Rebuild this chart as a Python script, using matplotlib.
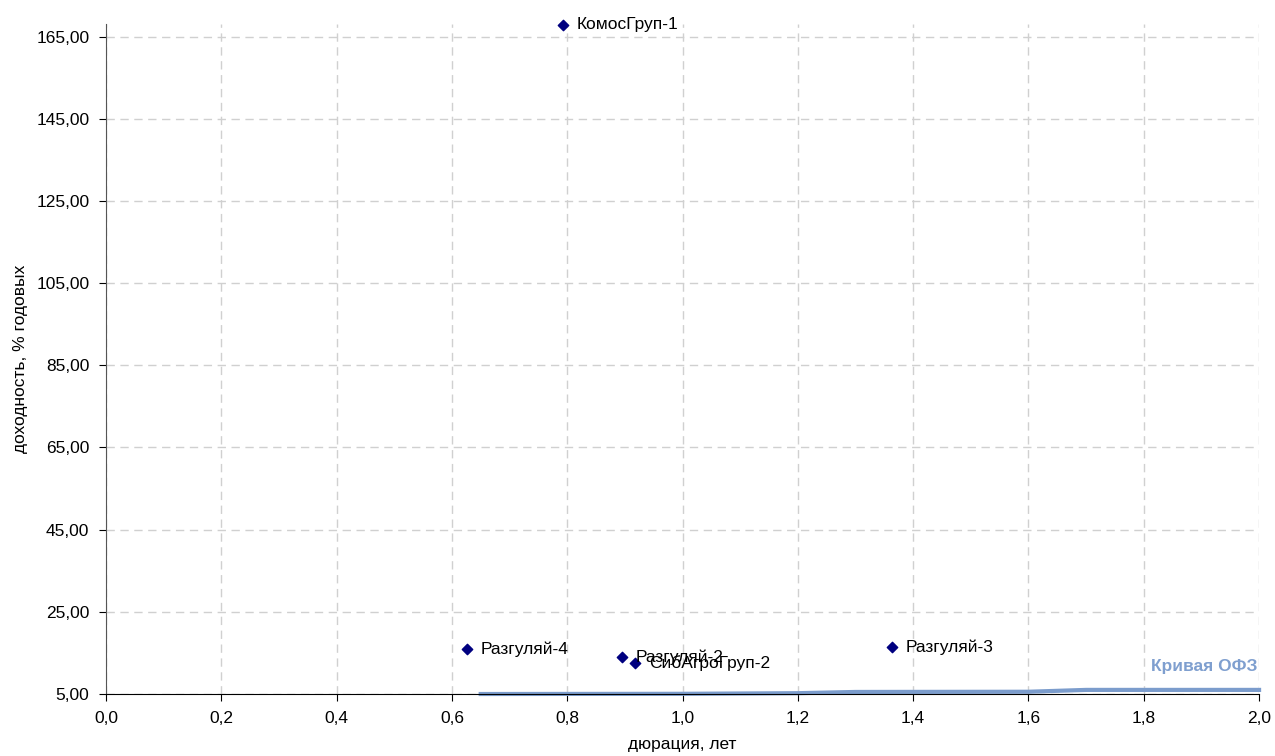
import matplotlib
matplotlib.use("Agg")
import matplotlib.pyplot as plt
from matplotlib.ticker import FuncFormatter, FixedLocator

plt.rcParams['font.family'] = ['Liberation Sans', 'DejaVu Sans']

# облигации: дюрация (лет) и доходность (% годовых)
names = ["КомосГруп-1", "Разгуляй-4", "Разгуляй-2", "СибАгроГруп-2", "Разгуляй-3"]
duration = [0.793, 0.626, 0.895, 0.918, 1.363]
yield_pct = [167.9, 15.9, 14.0, 12.5, 16.4]

# кривая ОФЗ
ofz_x = [0.65, 1.0, 1.2, 1.3, 1.6, 1.7, 2.0]
ofz_y = [5.0, 5.05, 5.2, 5.5, 5.55, 6.0, 6.0]

y_ticks = [5, 25, 45, 65, 85, 105, 125, 145, 165]
x_ticks = [0.0, 0.2, 0.4, 0.6, 0.8, 1.0, 1.2, 1.4, 1.6, 1.8, 2.0]

fs = 12.5

fig = plt.figure(figsize=(12.75, 7.56), dpi=100)
ax = fig.add_axes([0.0831, 0.082, 0.9044, 0.886])

ax.plot(ofz_x, ofz_y, color="#7b9ccc", linewidth=3, zorder=2, clip_on=False)
ax.scatter(duration, yield_pct, marker="D", s=28, color="#000080", zorder=3, clip_on=False)

for n, x, y in zip(names, duration, yield_pct):
    ax.annotate(n, (x, y), xytext=(10, 0), textcoords="offset points",
                va="center", ha="left", fontsize=fs, color="black")

ax.text(1.997, 11.6, "Кривая ОФЗ", ha="right", va="center", fontsize=fs,
        fontweight="bold", color="#7f9fcf")

ax.set_xlim(0, 2.0)
ax.set_ylim(5, 168)
ax.xaxis.set_major_locator(FixedLocator(x_ticks))
ax.yaxis.set_major_locator(FixedLocator(y_ticks))
ax.xaxis.set_major_formatter(FuncFormatter(lambda v, p: f"{v:.1f}".replace(".", ",")))
ax.yaxis.set_major_formatter(FuncFormatter(lambda v, p: f"{v:.2f}".replace(".", ",")))

ax.grid(True, linestyle=(0, (6, 4)), color="#d0d0d0", linewidth=1)
ax.set_axisbelow(True)
for s in ["top", "right"]:
    ax.spines[s].set_visible(False)
ax.spines["left"].set_color("#555555")
ax.spines["bottom"].set_color("black")
ax.tick_params(axis="both", labelsize=fs, length=5, direction="out", pad=7)

ax.set_xlabel("дюрация, лет", fontsize=fs, labelpad=8)
ax.set_ylabel("доходность, % годовых", fontsize=fs, labelpad=6)

fig.savefig("out.png", dpi=100)
